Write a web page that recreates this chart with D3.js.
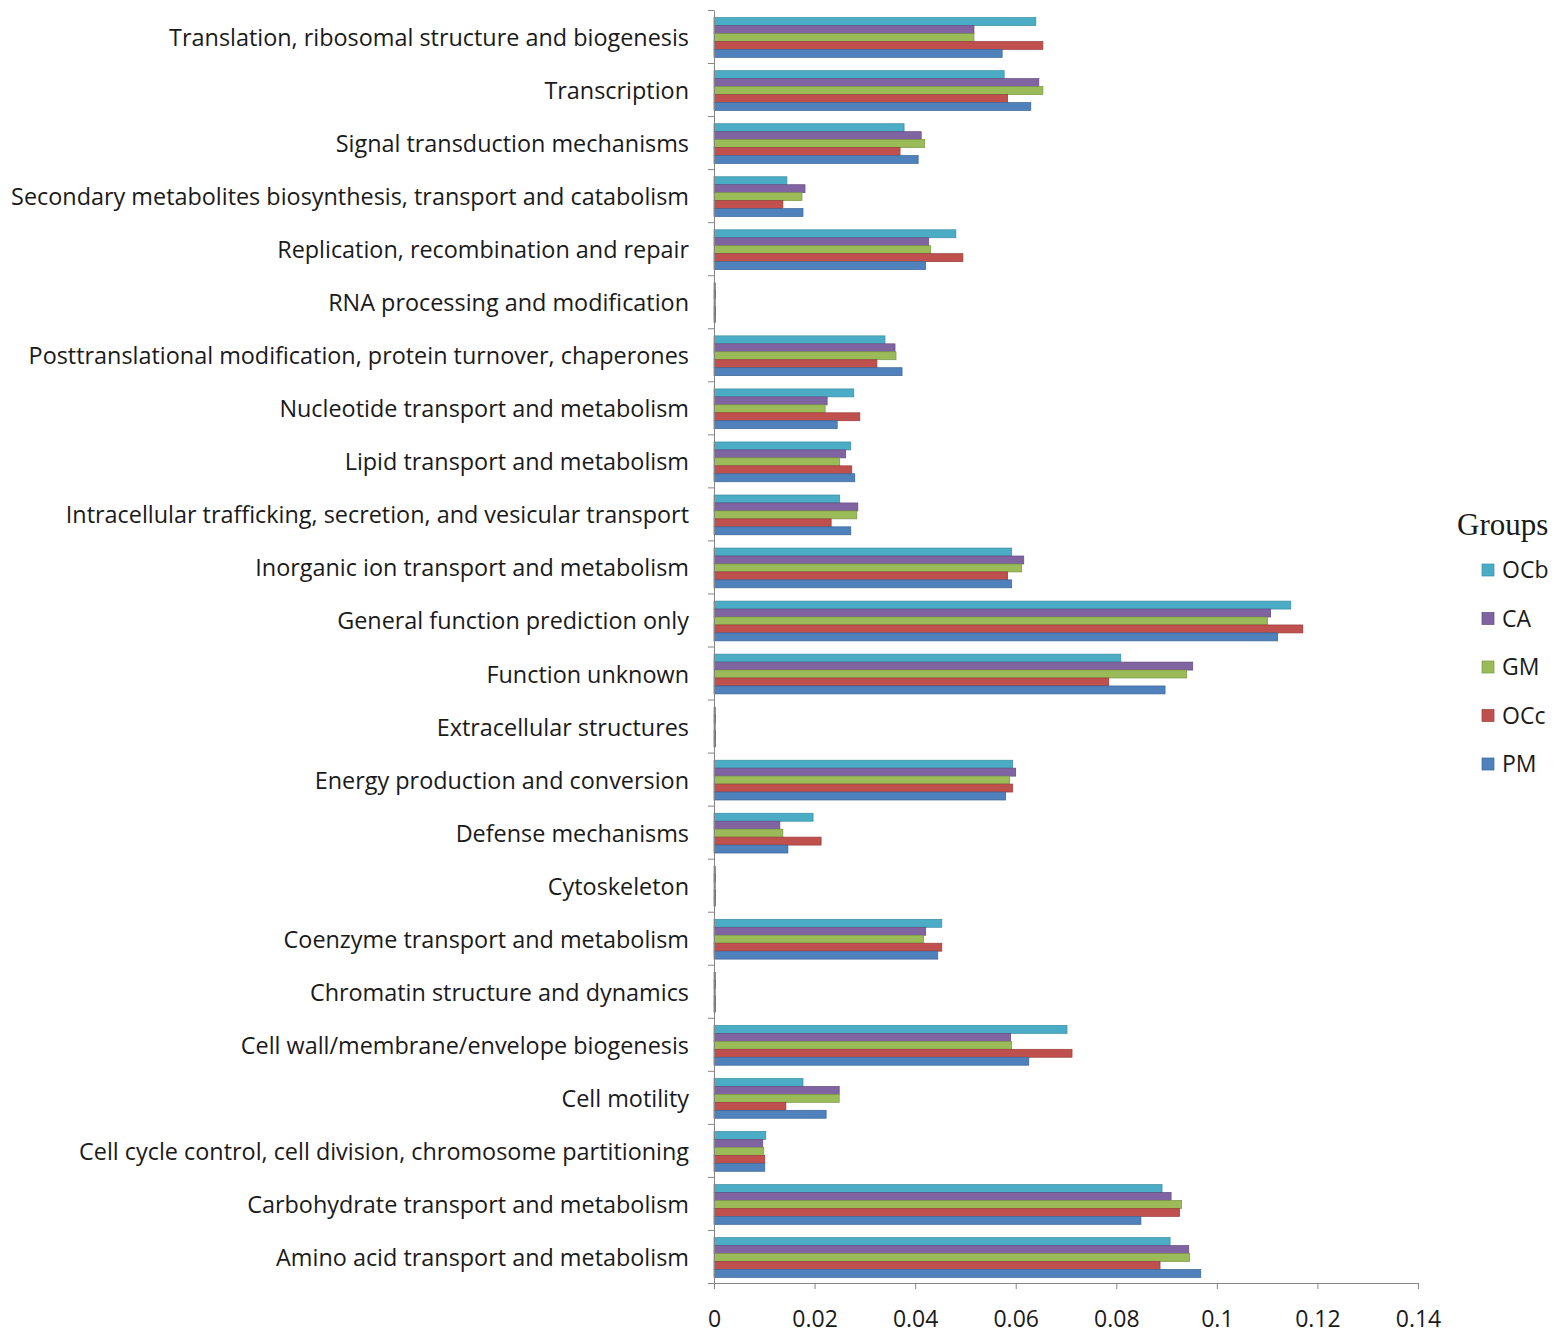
<!DOCTYPE html>
<html>
<head>
<meta charset="utf-8">
<script src="https://cdn.jsdelivr.net/npm/d3@7"></script>
<style>
  body { margin: 0; background: #fff; }
  svg { display: block; }
</style>
</head>
<body>
<div class="visHolder"></div>
<script>
// categories, top to bottom
const categories = [
  "Translation, ribosomal structure and biogenesis",
  "Transcription",
  "Signal transduction mechanisms",
  "Secondary metabolites biosynthesis, transport and catabolism",
  "Replication, recombination and repair",
  "RNA processing and modification",
  "Posttranslational modification, protein turnover, chaperones",
  "Nucleotide transport and metabolism",
  "Lipid transport and metabolism",
  "Intracellular trafficking, secretion, and vesicular transport",
  "Inorganic ion transport and metabolism",
  "General function prediction only",
  "Function unknown",
  "Extracellular structures",
  "Energy production and conversion",
  "Defense mechanisms",
  "Cytoskeleton",
  "Coenzyme transport and metabolism",
  "Chromatin structure and dynamics",
  "Cell wall/membrane/envelope biogenesis",
  "Cell motility",
  "Cell cycle control, cell division, chromosome partitioning",
  "Carbohydrate transport and metabolism",
  "Amino acid transport and metabolism"
];

const groups = ["OCb", "CA", "GM", "OCc", "PM"];

// series values, same order as categories
const OCb = [0.0640, 0.0577, 0.0378, 0.0145, 0.0481, 0.0003, 0.0340, 0.0278, 0.0272, 0.0250, 0.0592, 0.1147,
             0.0809, 0.0003, 0.0594, 0.0197, 0.0003, 0.0453, 0.0003, 0.0702, 0.0177, 0.0103, 0.0891, 0.0907];
const CA  = [0.0517, 0.0646, 0.0412, 0.0181, 0.0427, 0.0003, 0.0360, 0.0225, 0.0262, 0.0286, 0.0616, 0.1107,
             0.0952, 0.0003, 0.0600, 0.0131, 0.0003, 0.0421, 0.0003, 0.0590, 0.0249, 0.0097, 0.0909, 0.0944];
const GM  = [0.0517, 0.0654, 0.0419, 0.0175, 0.0431, 0.0003, 0.0362, 0.0221, 0.0250, 0.0284, 0.0612, 0.1101,
             0.0940, 0.0003, 0.0588, 0.0137, 0.0003, 0.0417, 0.0003, 0.0592, 0.0249, 0.0099, 0.0930, 0.0946];
const OCc = [0.0654, 0.0584, 0.0370, 0.0137, 0.0495, 0.0003, 0.0324, 0.0290, 0.0274, 0.0233, 0.0584, 0.1171,
             0.0785, 0.0003, 0.0594, 0.0213, 0.0003, 0.0453, 0.0003, 0.0712, 0.0143, 0.0101, 0.0926, 0.0887];
const PM  = [0.0573, 0.0630, 0.0406, 0.0177, 0.0421, 0.0003, 0.0374, 0.0245, 0.0280, 0.0272, 0.0592, 0.1121,
             0.0897, 0.0003, 0.0580, 0.0147, 0.0003, 0.0445, 0.0003, 0.0626, 0.0223, 0.0101, 0.0849, 0.0968];

const xTickValues = [0, 0.02, 0.04, 0.06, 0.08, 0.1, 0.12, 0.14];
const xTickLabels = ["0", "0.02", "0.04", "0.06", "0.08", "0.1", "0.12", "0.14"];

const series = { OCb: OCb, CA: CA, GM: GM, OCc: OCc, PM: PM };
const colors = { OCb: "#4bacc6", CA: "#8064a2", GM: "#9bbb59", OCc: "#c0504d", PM: "#4f81bd" };
const strokes = { OCb: "#3a8ca3", CA: "#624c80", GM: "#7a9644", OCc: "#983d3a", PM: "#3b6596" };

// chart size
const w = 1559;
const h = 1342;
const m = { left: 714, right: 1418, top: 10, bottom: 1283 };

const svg = d3.select(".visHolder")
  .append("svg")
  .attr("width", w)
  .attr("height", h);

const xScale = d3.scaleLinear()
  .domain([0, 0.14])
  .range([m.left, m.right]);

const yScale = d3.scaleBand()
  .domain(categories)
  .range([m.top, m.bottom])
  .paddingInner(0.25)
  .paddingOuter(0.125);

const subScale = d3.scaleBand()
  .domain(groups)
  .range([0, yScale.bandwidth()]);

// bars
const rows = categories.map((c, i) => ({ cat: c, vals: groups.map(g => ({ g: g, v: series[g][i] })) }));

const rowG = svg.selectAll("g.row")
  .data(rows)
  .enter()
  .append("g")
  .attr("class", "row")
  .attr("transform", d => "translate(0," + (yScale(d.cat) + 1) + ")");

rowG.selectAll("rect")
  .data(d => d.vals)
  .enter()
  .append("rect")
  .attr("x", xScale(0))
  .attr("y", d => subScale(d.g))
  .attr("width", d => xScale(d.v) - xScale(0))
  .attr("height", subScale.bandwidth())
  .attr("fill", d => colors[d.g])
  .attr("stroke", d => strokes[d.g])
  .attr("stroke-width", 0.7);

// y axis: boundary ticks
const edgeScale = d3.scaleLinear()
  .domain([0, categories.length])
  .range([m.top, m.bottom]);

const yAxisG = svg.append("g")
  .attr("transform", "translate(" + m.left + ",0)")
  .call(d3.axisLeft(edgeScale).tickValues(d3.range(categories.length + 1)).tickFormat("").tickSize(6).tickSizeOuter(0));
yAxisG.selectAll("path, line").attr("stroke", "#868686");

// category labels
const labelG = svg.append("g")
  .attr("transform", "translate(" + m.left + ",2)")
  .call(d3.axisLeft(yScale).tickSize(0).tickPadding(25));
labelG.select("path").remove();
labelG.selectAll("text")
  .attr("font-family", "'Open Sans', sans-serif")
  .attr("font-size", 23.4)
  .attr("fill", "#1a1a1a");

// x axis
const xAxisG = svg.append("g")
  .attr("transform", "translate(0," + m.bottom + ")")
  .call(d3.axisBottom(xScale).tickValues(xTickValues)
    .tickFormat((d, i) => xTickLabels[i]).tickSize(6).tickSizeOuter(0).tickPadding(22));
xAxisG.selectAll("path, line").attr("stroke", "#868686");
xAxisG.selectAll("text")
  .attr("font-family", "'Open Sans', sans-serif")
  .attr("font-size", 23)
  .attr("fill", "#1a1a1a");

// legend
const legend = svg.append("g");
legend.append("text")
  .attr("x", 1457)
  .attr("y", 535)
  .attr("font-family", "'Liberation Serif', serif")
  .attr("font-size", 31)
  .attr("fill", "#1a1a1a")
  .text("Groups");

const legendY = d3.scalePoint().domain(groups).range([570, 764]);

const item = legend.selectAll("g.item")
  .data(groups)
  .enter()
  .append("g")
  .attr("class", "item")
  .attr("transform", d => "translate(1482," + legendY(d) + ")");

item.append("rect")
  .attr("x", 0)
  .attr("y", -6)
  .attr("width", 12)
  .attr("height", 12)
  .attr("fill", d => colors[d])
  .attr("stroke", d => strokes[d])
  .attr("stroke-width", 0.7);

item.append("text")
  .attr("x", 20)
  .attr("y", 0)
  .attr("dy", "0.36em")
  .attr("font-family", "'Open Sans', sans-serif")
  .attr("font-size", 23)
  .attr("fill", "#1a1a1a")
  .text(d => d);
</script>
</body>
</html>
